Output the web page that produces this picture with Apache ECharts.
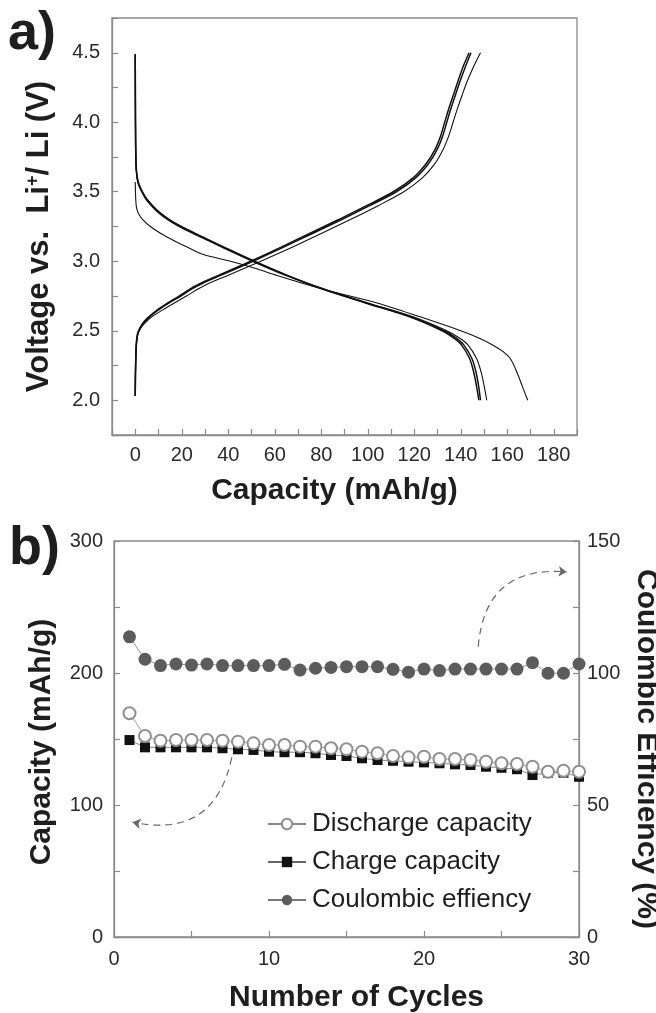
<!DOCTYPE html>
<html><head><meta charset="utf-8">
<script src="https://cdn.jsdelivr.net/npm/echarts@6/dist/echarts.min.js"></script>
<style>html,body{margin:0;padding:0;background:#fff}#c{width:656px;height:1013px}</style>
</head><body><div id="c"></div>
<script>
// ---------- Panel a: voltage profiles (capacity mAh/g vs voltage V) ----------
const chgV   = [2.03, 2.2, 2.4, 2.48, 2.53, 2.57, 2.6, 2.65, 2.7, 2.75, 2.8, 2.84, 2.9, 3.0, 3.1, 3.2, 3.3, 3.4, 3.5, 3.6, 3.7, 3.8, 3.9, 4.0, 4.1, 4.2, 4.3, 4.4, 4.5];
const chgCapA = [0, 0.1, 0.4, 1.0, 2.3, 4.0, 5.8, 9.5, 14, 19, 23.5, 28, 36, 49.6, 62.5, 75, 87.5, 99.5, 111, 119.5, 125, 128.8, 131.3, 133.1, 134.9, 136.9, 138.9, 141, 143.6];
const chgCapB = [0, 0.1, 0.5, 1.1, 2.5, 4.3, 6.2, 10, 14.6, 19.6, 24.2, 28.8, 37, 50.6, 63.6, 76.2, 88.8, 100.8, 112.3, 120.6, 126, 129.7, 132.2, 134, 135.8, 137.8, 139.8, 142, 144.4];
const chgCapC = [0, 0.1, 0.5, 1.2, 2.8, 5.0, 7.2, 11.8, 16.8, 22, 27, 31.5, 40, 54, 67.5, 80, 92.5, 104.5, 115.5, 123.5, 128.8, 132.3, 134.8, 136.7, 138.6, 140.7, 142.9, 145.5, 148.5];

const disV    = [4.49, 4.0, 3.7, 3.6, 3.55, 3.5, 3.45, 3.4, 3.35, 3.3, 3.25, 3.2, 3.1, 3.0, 2.9, 2.8, 2.7, 2.6, 2.5, 2.45, 2.4, 2.3, 2.2, 2.1, 2.0];
const disCapA = [0, 0.1, 0.3, 0.8, 1.5, 2.8, 4.5, 7, 10, 14, 19, 25, 37.5, 50.5, 64.5, 80.5, 99, 118, 132, 136.8, 140.2, 143.8, 145.6, 146.8, 147.8];
const disCapB = [0, 0.1, 0.35, 0.9, 1.7, 3.1, 4.9, 7.5, 10.6, 14.7, 19.8, 25.8, 38.4, 51.3, 65.2, 81, 99.6, 118.7, 133, 137.8, 141.2, 144.8, 146.6, 147.7, 148.5];
const disCapC = [0, 0.1, 0.3, 0.8, 1.5, 2.9, 4.7, 7.3, 10.3, 14.4, 19.5, 25.5, 38, 51, 65, 81, 100, 119.5, 134, 139.3, 143, 146.8, 148.8, 150.1, 151.2];

const dis1V   = [3.57, 3.45, 3.38, 3.34, 3.3, 3.25, 3.2, 3.15, 3.1, 3.05, 3.0, 2.95, 2.9, 2.8, 2.7, 2.6, 2.5, 2.45, 2.4, 2.35, 2.3, 2.2, 2.1, 2.0];
const dis1Cap = [0, 0.2, 0.6, 1.5, 3.2, 6.5, 11, 16.5, 22.5, 29, 41, 51.5, 60.5, 80.5, 104, 122.5, 140, 147.5, 153.5, 158.2, 161.3, 164.2, 166.5, 168.8];

// ---------- Panel b: cycling ----------
const cycles = [1,2,3,4,5,6,7,8,9,10,11,12,13,14,15,16,17,18,19,20,21,22,23,24,25,26,27,28,29,30];
const dischargeCap = [169.5, 152.3, 148.7, 149.2, 149.2, 149.2, 148.7, 148, 146.7, 145.5, 145.5, 144.2, 144.2, 143, 142.2, 140.4, 139.2, 137.1, 136.1, 136.6, 134.8, 134.8, 134.1, 132.8, 131.6, 131.1, 129, 125.2, 126, 125.2];
const chargeCap = [149.2, 143.7, 143.7, 143.7, 143.7, 143.7, 143, 142.2, 141.7, 140.4, 140, 140, 139.2, 137.9, 137.1, 135.4, 134.1, 133.5, 132.8, 132.3, 131.6, 130.8, 130.3, 129, 128.2, 127.1, 122.7, 124.5, 124.5, 121.4];
const coulombic = [113.7, 105.2, 102.8, 103.4, 103, 103.4, 102.8, 102.8, 102.8, 102.8, 103.3, 101.1, 101.8, 102.1, 102.4, 102.4, 102.4, 101.4, 100.3, 101.5, 100.9, 101.5, 101.5, 101.5, 101.5, 101.5, 103.9, 99.9, 99.9, 103.4];

// annotation arrows (data coordinates)
const arrowToLeft  = [[7.6, 136], [1.2, 87]];     // left axis (mAh/g)
const arrowToRight = [[23.5, 110], [29.2, 138.3]]; // right axis (%)

const xTicksA = [0, 20, 40, 60, 80, 100, 120, 140, 160, 180];
const yTicksA = [2.0, 2.5, 3.0, 3.5, 4.0, 4.5];
const xTicksB = [0, 10, 20, 30];
const yTicksBL = [0, 100, 200, 300];
const yTicksBR = [0, 50, 100, 150];

const FF = '"Liberation Sans", Arial, Helvetica, sans-serif';
const AX = '#8a8a8a';
const pair = (xs, ys) => xs.map((x, i) => [x, ys[i]]);
const inList = (list, v) => list.some(t => Math.abs(t - v) < 1e-6);

function axis(extra, ticks, fmt, margin, namePad) {
  return Object.assign({
    type: 'value',
    axisLine: {show: true, onZero: false, lineStyle: {color: AX, width: 1.3}},
    axisTick: {show: true, inside: true, length: 6, lineStyle: {color: AX, width: 1.2}},
    splitLine: {show: false},
    axisLabel: {color: '#2a2a2a', fontSize: 20, fontFamily: FF, margin: margin,
      showMinLabel: true, showMaxLabel: true,
      formatter: v => inList(ticks, v) ? fmt(v) : ''},
    nameLocation: 'middle',
    nameTextStyle: {color: '#1e1e1e', fontSize: 30, fontWeight: 'bold', fontFamily: FF, padding: namePad || 0}
  }, extra);
}

const profLine = (cap, v, w) => ({
  type: 'line', xAxisIndex: 0, yAxisIndex: 0, data: pair(cap, v),
  showSymbol: false, symbol: 'none', smooth: 0.3,
  lineStyle: {color: '#111', width: w}, silent: true, z: 2
});

const chart = echarts.init(document.getElementById('c'), null, {renderer: 'canvas'});
chart.setOption({
  animation: false,
  backgroundColor: '#fff',
  textStyle: {fontFamily: FF},
  grid: [
    {left: 112, top: 18, width: 465, height: 417, show: true, borderColor: AX, borderWidth: 1.3, outerBoundsMode: 'none', containLabel: false},
    {left: 114, top: 541, width: 465, height: 396, show: true, borderColor: AX, borderWidth: 1.3, outerBoundsMode: 'none', containLabel: false}
  ],
  xAxis: [
    axis({gridIndex: 0, min: -10, max: 190, interval: 10, name: 'Capacity (mAh/g)', nameGap: 41}, xTicksA, v => String(v), 10, [0, 20, 0, 0]),
    axis({gridIndex: 1, min: 0, max: 30, interval: 5, name: 'Number of Cycles', nameGap: 46}, xTicksB, v => String(v), 12, [0, 0, 0, 20])
  ],
  yAxis: [
    axis({gridIndex: 0, min: 1.75, max: 4.75, interval: 0.25, nameRotate: 90, nameGap: 57,
      name: '{b|Voltage vs.  Li}{s|+}{b|/ Li (V)}',
      nameTextStyle: {padding: [0, 20, 0, 0], rich: {
        b: {fontSize: 31, fontWeight: 'bold', color: '#1e1e1e', fontFamily: FF},
        s: {fontSize: 18, fontWeight: 'bold', color: '#1e1e1e', fontFamily: FF, verticalAlign: 'top', padding: [0, 0, 13, 0]}
      }}}, yTicksA, v => v.toFixed(1), 12),
    axis({gridIndex: 1, min: 0, max: 300, interval: 50, nameRotate: 90, nameGap: 57, name: 'Capacity (mAh/g)'}, yTicksBL, v => String(v), 11, [0, 6, 0, 0]),
    axis({gridIndex: 1, position: 'right', min: 0, max: 150, interval: 25, nameRotate: -90, nameGap: 50, name: 'Coulombic Efficiency (%)'}, yTicksBR, v => String(v), 8, [0, 0, 0, 20])
  ],
  legend: {
    left: 262, top: 806, orient: 'vertical', itemWidth: 38, itemHeight: 13, itemGap: 12,
    data: ['Discharge capacity', 'Charge capacity', 'Coulombic effiency'],
    textStyle: {fontSize: 26, color: '#1e1e1e', fontFamily: FF, padding: [0, 0, 0, 1]}
  },
  graphic: [
    {type: 'text', left: 8, top: 7, style: {text: 'a)', font: 'bold 54px ' + FF, fill: '#1e1e1e'}},
    {type: 'text', left: 9, top: 522, style: {text: 'b)', font: 'bold 54px ' + FF, fill: '#1e1e1e'}}
  ],
  series: [
    profLine(chgCapC, chgV, 1.1),
    profLine(chgCapA, chgV, 1.5),
    profLine(chgCapB, chgV, 1.5),
    profLine(dis1Cap, dis1V, 1.1),
    profLine(disCapC, disV, 1.1),
    profLine(disCapA, disV, 1.5),
    profLine(disCapB, disV, 1.5),
    {
      name: 'Charge capacity', type: 'line', xAxisIndex: 1, yAxisIndex: 1,
      data: pair(cycles, chargeCap), symbol: 'rect', symbolSize: 10,
      itemStyle: {color: '#111'}, lineStyle: {color: '#666', width: 0.8}, z: 3
    },
    {
      name: 'Discharge capacity', type: 'line', xAxisIndex: 1, yAxisIndex: 1,
      data: pair(cycles, dischargeCap), symbol: 'emptyCircle', symbolSize: 12,
      itemStyle: {color: '#8f8f8f', borderWidth: 1.2}, lineStyle: {color: '#888', width: 0.8}, z: 4
    },
    {
      name: 'Coulombic effiency', type: 'line', xAxisIndex: 1, yAxisIndex: 2,
      data: pair(cycles, coulombic), symbol: 'circle', symbolSize: 13,
      itemStyle: {color: '#5c5c5c'}, lineStyle: {color: '#777', width: 0.8}, z: 3
    },
    {
      type: 'lines', coordinateSystem: 'cartesian2d', xAxisIndex: 1, yAxisIndex: 1, silent: true,
      symbol: ['none', 'arrow'], symbolSize: 8,
      lineStyle: {color: '#666', width: 1.2, type: [7, 5], curveness: 0.5, opacity: 1},
      data: [{coords: arrowToLeft}], z: 5
    },
    {
      type: 'lines', coordinateSystem: 'cartesian2d', xAxisIndex: 1, yAxisIndex: 2, silent: true,
      symbol: ['none', 'arrow'], symbolSize: 8,
      lineStyle: {color: '#666', width: 1.2, type: [7, 5], curveness: 0.5, opacity: 1},
      data: [{coords: arrowToRight}], z: 5
    }
  ]
});
</script></body></html>
